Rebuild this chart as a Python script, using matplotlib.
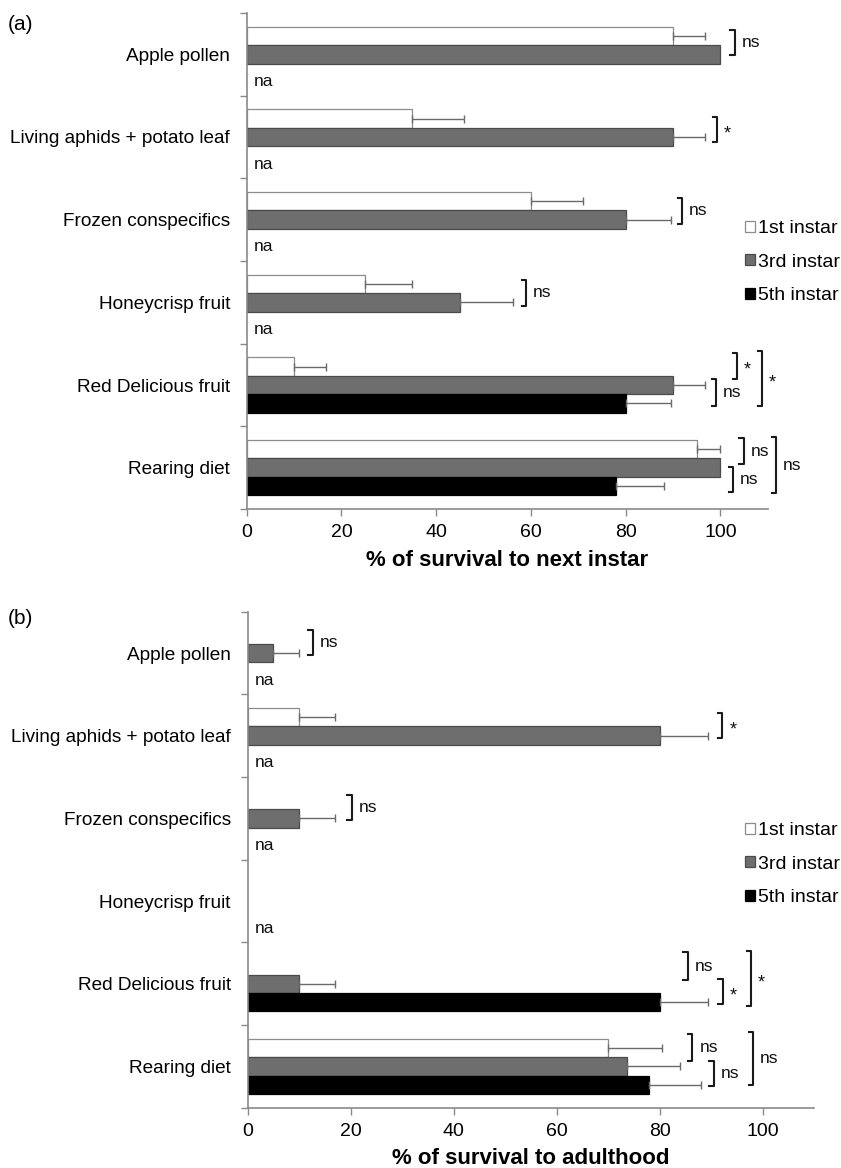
import matplotlib
matplotlib.use('Agg')
import matplotlib.pyplot as plt
from matplotlib.patches import Patch
import numpy as np

plt.rcParams['font.family'] = ['Liberation Sans', 'DejaVu Sans']

categories = ['Apple pollen', 'Living aphids + potato leaf', 'Frozen conspecifics',
              'Honeycrisp fruit', 'Red Delicious fruit', 'Rearing diet']
instars = ['1st instar', '3rd instar', '5th instar']

# (a) % survival to next instar; nan = not assessed ("na")
next_1st = [90, 35, 60, 25, 10, 95]
next_1st_err = [6.7, 10.8, 11.1, 10, 6.8, 5]
next_3rd = [100, 90, 80, 45, 90, 100]
next_3rd_err = [0, 6.7, 9.5, 11.3, 6.7, 0]
next_5th = [np.nan, np.nan, np.nan, np.nan, 80, 78]
next_5th_err = [0, 0, 0, 0, 9.5, 10]

# (b) % survival to adulthood
adult_1st = [0, 10, 0, 0, 0, 70]
adult_1st_err = [0, 7, 0, 0, 0, 10.5]
adult_3rd = [5, 80, 10, 0, 10, 73.7]
adult_3rd_err = [5, 9.4, 7, 0, 7, 10.3]
adult_5th = [np.nan, np.nan, np.nan, np.nan, 80, 78]
adult_5th_err = [0, 0, 0, 0, 9.4, 10]

# significance labels per comparison
sig_a = ['ns', '*', 'ns', 'ns', '*', 'ns', '*', 'ns', 'ns', 'ns']
sig_b = ['ns', '*', 'ns', 'ns', '*', '*', 'ns', 'ns', 'ns']

# bracket layout: (category, top slot, bottom slot, x)
brk_a = [(0, -0.32, 1.04, 103.0), (1, -0.10, 1.29, 99.3), (2, -0.19, 1.24, 91.9),
         (3, -0.21, 1.18, 59.0), (4, -0.74, 0.66, 103.5), (4, 0.66, 2.13, 99.1),
         (4, -0.83, 2.16, 108.8), (5, -0.63, 0.82, 104.9), (5, 0.95, 2.31, 102.7),
         (5, -0.65, 2.36, 111.8)]
brk_b = [(0, -0.27, 1.13, 12.7), (1, -0.23, 1.13, 92.2), (2, -0.28, 1.11, 20.2),
         (4, -0.70, 0.78, 85.5), (4, 0.73, 2.10, 92.3), (4, -0.76, 2.20, 97.8),
         (5, -0.77, 0.68, 86.4), (5, 0.68, 2.09, 90.5), (5, -0.86, 2.00, 98.2)]

fills = ['#ffffff', '#6e6e6e', '#000000']
edges = ['#8c8c8c', '#4a4a4a', '#000000']
axcol = '#8a8a8a'
h = 0.2226

fig = plt.figure(figsize=(8.41, 11.68), dpi=100)
ax_a = fig.add_axes([0.2933, 0.5642, 0.6196, 0.4247])
ax_b = fig.add_axes([0.2943, 0.0516, 0.6736, 0.4247])


def draw(ax, series, errs, sigs, brks, xlabel, leg_y):
    y = np.arange(len(categories))
    for j in range(3):
        vals = np.array(series[j], dtype=float)
        err = np.array(errs[j], dtype=float)
        yy = y + (j - 1) * h
        ok = ~np.isnan(vals) & (vals > 0)
        ax.barh(yy[ok], vals[ok], height=h, color=fills[j], edgecolor=edges[j],
                linewidth=0.9, zorder=2)
        e = ok & (err > 0)
        ax.errorbar(vals[e], yy[e], xerr=[np.zeros(e.sum()), err[e]], fmt='none',
                    ecolor='#6a6a6a', elinewidth=1.0, capsize=3, capthick=1.0, zorder=3)
        if j == 2:
            for i in np.where(np.isnan(vals))[0]:
                ax.text(1.5, i + 0.33, 'na', va='center', ha='left', fontsize=12.5,
                        color='#111')
    arm = 0.9
    for (c, t, b, x), lab in zip(brks, sigs):
        y0 = c + (t - 1) * h
        y1 = c + (b - 1) * h
        ax.plot([x - arm, x, x, x - arm], [y0, y0, y1, y1], color='#1a1a1a', lw=1.5,
                clip_on=False, zorder=4)
        ax.annotate(lab, (x, (y0 + y1) / 2), xytext=(5, 0 if lab == 'ns' else -3),
                    textcoords='offset points', va='center', ha='left',
                    fontsize=12.5 if lab == 'ns' else 13, color='#111',
                    annotation_clip=False)

    ax.set_xlim(0, 110)
    ax.set_ylim(len(categories) - 0.5, -0.5)
    ax.set_xticks([0, 20, 40, 60, 80, 100])
    ax.set_yticks(y)
    ax.set_yticklabels(categories, fontsize=13.7)
    ax.set_yticks(np.arange(-0.5, len(categories), 1), minor=True)
    ax.tick_params(axis='y', which='major', length=0, pad=12)
    ax.tick_params(axis='y', which='minor', length=5, color=axcol, width=1)
    ax.tick_params(axis='x', length=5, color=axcol, width=1, labelsize=14, pad=6)
    for s in ['top', 'right']:
        ax.spines[s].set_visible(False)
    for s in ['left', 'bottom']:
        ax.spines[s].set_color(axcol)
        ax.spines[s].set_linewidth(1.2)
    ax.set_xlabel(xlabel, fontsize=16, fontweight='bold', labelpad=6)

    handles = [Patch(facecolor=fills[j], edgecolor=edges[j], linewidth=0.9)
               for j in range(3)]
    ax.legend(handles, instars, loc='upper left', bbox_to_anchor=(745 / 841, leg_y),
              bbox_transform=fig.transFigure, frameon=False, fontsize=14,
              handlelength=0.5, handleheight=0.5, handletextpad=0.15,
              labelspacing=0.85, borderpad=0, borderaxespad=0)


draw(ax_a, [next_1st, next_3rd, next_5th], [next_1st_err, next_3rd_err, next_5th_err],
     sig_a, brk_a, '% of survival to next instar', 1 - 220 / 1168)
draw(ax_b, [adult_1st, adult_3rd, adult_5th], [adult_1st_err, adult_3rd_err, adult_5th_err],
     sig_b, brk_b, '% of survival to adulthood', 1 - 822 / 1168)

fig.text(8 / 841, 1 - 25 / 1168, '(a)', fontsize=15, va='center', ha='left')
fig.text(8 / 841, 1 - 619 / 1168, '(b)', fontsize=15, va='center', ha='left')

fig.savefig('out.png', dpi=100, facecolor='white')
